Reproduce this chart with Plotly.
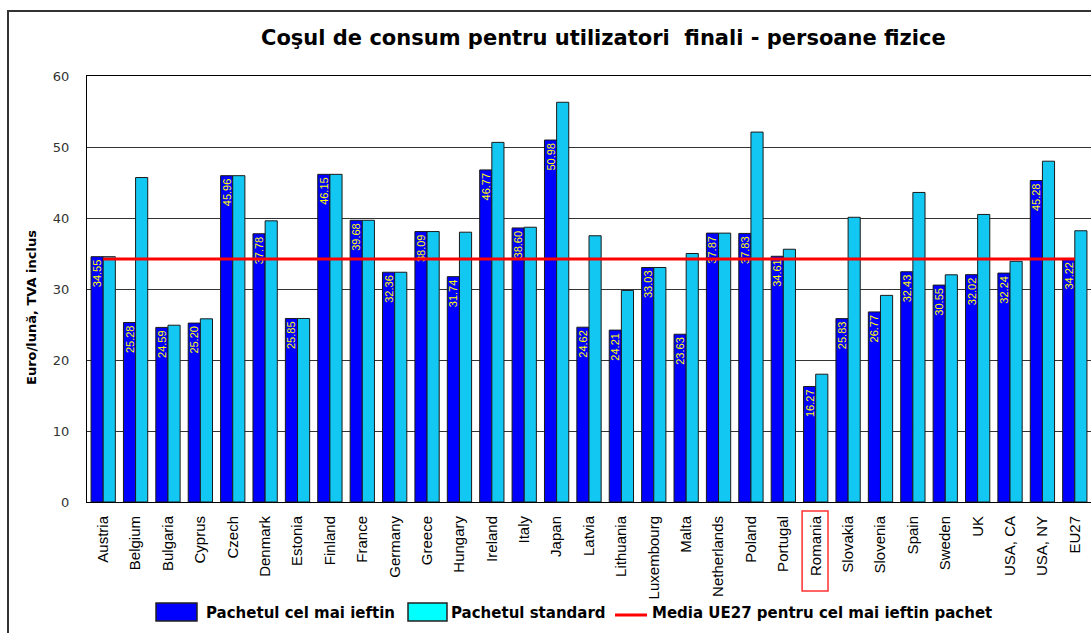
import plotly.graph_objects as go

# Countries / regions on the category axis
countries = [
    "Austria", "Belgium", "Bulgaria", "Cyprus", "Czech", "Denmark", "Estonia",
    "Finland", "France", "Germany", "Greece", "Hungary", "Ireland", "Italy",
    "Japan", "Latvia", "Lithuania", "Luxembourg", "Malta", "Netherlands",
    "Poland", "Portugal", "Romania", "Slovakia", "Slovenia", "Spain", "Sweden",
    "UK", "USA, CA", "USA, NY", "EU27",
]

# Cheapest package (Euro/month, VAT included)
cheapest = [
    34.55, 25.28, 24.59, 25.20, 45.96, 37.78, 25.85,
    46.15, 39.68, 32.36, 38.09, 31.74, 46.77, 38.60,
    50.98, 24.62, 24.21, 33.03, 23.63, 37.87,
    37.83, 34.61, 16.27, 25.83, 26.77, 32.43, 30.55,
    32.02, 32.24, 45.28, 34.22,
]

# Standard package (Euro/month, VAT included)
standard = [
    34.55, 45.70, 24.90, 25.80, 45.96, 39.60, 25.85,
    46.15, 39.68, 32.36, 38.09, 38.00, 50.65, 38.70,
    56.30, 37.50, 29.80, 33.03, 35.00, 37.87,
    52.10, 35.60, 18.00, 40.10, 29.10, 43.60, 32.00,
    40.50, 33.90, 48.00, 38.20,
]

# EU27 average of the cheapest package
eu27_avg = cheapest[countries.index("EU27")]

title_text = "Coşul de consum pentru utilizatori  finali - persoane fizice"
y_title = "Euro/lună, TVA inclus"
legend_names = [
    "Pachetul cel mai ieftin",
    "Pachetul standard",
    "Media UE27 pentru cel mai ieftin pachet",
]
highlight = "Romania"

BLUE = "#0000FF"
CYAN = "#12C8F2"
FONT = "Liberation Sans, Arial, sans-serif"
WIDE = "DejaVu Sans, Verdana, sans-serif"

W, H = 1091, 633
L, R, T, B = 87, 0, 76, 131
PW, PH = W - L - R, H - T - B


def px_x(px):
    return (px - L) / PW


def px_y(py):
    return (H - B - py) / PH


fig = go.Figure()

label_font = dict(family=FONT, size=11, color="#FFFF00")
fig.add_trace(go.Bar(
    x=countries, y=cheapest, name=legend_names[0],
    marker=dict(color=BLUE, line=dict(color="#1a1a1a", width=1)),
    texttemplate="%{y:.2f}", textposition="inside", insidetextanchor="end",
    textangle=-90, constraintext="none",
    textfont=label_font, insidetextfont=label_font,
    showlegend=False,
))
fig.add_trace(go.Bar(
    x=countries, y=standard, name=legend_names[1],
    marker=dict(color=CYAN, line=dict(color="#1a1a1a", width=1)),
    showlegend=False,
))
fig.add_trace(go.Scatter(
    x=countries, y=[eu27_avg] * len(countries), name=legend_names[2],
    mode="lines", line=dict(color="#FF0000", width=3),
    showlegend=False,
))

shapes = [
    # outer chart frame
    dict(type="rect", xref="paper", yref="paper",
         x0=px_x(8), x1=px_x(1200), y0=px_y(700), y1=px_y(11),
         line=dict(color="#333333", width=2), layer="below"),
    # highlight box around the Romania label
    dict(type="rect", xref="x", yref="paper",
         x0=countries.index(highlight) - 0.42, x1=countries.index(highlight) + 0.38,
         y0=px_y(591), y1=px_y(511),
         line=dict(color="#FF3030", width=1.5)),
    # legend swatches
    dict(type="rect", xref="paper", yref="paper",
         x0=px_x(156), x1=px_x(197), y0=px_y(621), y1=px_y(603),
         fillcolor=BLUE, line=dict(color="#222222", width=1.5)),
    dict(type="rect", xref="paper", yref="paper",
         x0=px_x(408), x1=px_x(447), y0=px_y(621), y1=px_y(603),
         fillcolor="#00FFFF", line=dict(color="#222222", width=1.5)),
    dict(type="line", xref="paper", yref="paper",
         x0=px_x(615), x1=px_x(647), y0=px_y(615), y1=px_y(615),
         line=dict(color="#FF0000", width=3)),
]

legend_font = dict(family=WIDE, size=15, color="#000000")
annotations = [
    dict(text="<b>" + title_text + "</b>", xref="paper", yref="paper",
         x=px_x(603), y=px_y(38), xanchor="center", yanchor="middle",
         showarrow=False, font=dict(family=WIDE, size=21, color="#000000")),
    dict(text="<b>" + y_title + "</b>", xref="paper", yref="paper",
         x=px_x(31), y=px_y(308), xanchor="center", yanchor="middle",
         showarrow=False, textangle=-90,
         font=dict(family=WIDE, size=13, color="#000000")),
    dict(text="<b>" + legend_names[0] + "</b>", xref="paper", yref="paper",
         x=px_x(204), y=px_y(613), xanchor="left", yanchor="middle",
         showarrow=False, font=legend_font),
    dict(text="<b>" + legend_names[1] + "</b>", xref="paper", yref="paper",
         x=px_x(449), y=px_y(613), xanchor="left", yanchor="middle",
         showarrow=False, font=legend_font),
    dict(text="<b>" + legend_names[2] + "</b>", xref="paper", yref="paper",
         x=px_x(650), y=px_y(613), xanchor="left", yanchor="middle",
         showarrow=False, font=legend_font),
]

fig.update_layout(
    width=W, height=H,
    margin=dict(l=L, r=R, t=T, b=B, pad=0),
    paper_bgcolor="white", plot_bgcolor="white",
    barmode="group", bargap=0.25, bargroupgap=0,
    shapes=shapes, annotations=annotations,
    font=dict(family=FONT),
)

fig.update_xaxes(
    type="category", range=[-0.5, len(countries) - 0.5],
    tickangle=-90, tickfont=dict(family=FONT, size=15, color="#000000"),
    ticks="", ticklabelstandoff=7,
    showline=True, linecolor="#000000", linewidth=1, mirror=True,
    showgrid=False,
)
fig.update_yaxes(
    range=[0, 60], dtick=10, tick0=0,
    tickfont=dict(family=WIDE, size=13, color="#333333"),
    ticks="", ticklabelstandoff=14,
    showline=True, linecolor="#000000", linewidth=1, mirror=True,
    showgrid=True, gridcolor="#333333", gridwidth=1, zeroline=False,
)

fig.write_html("out.html")
